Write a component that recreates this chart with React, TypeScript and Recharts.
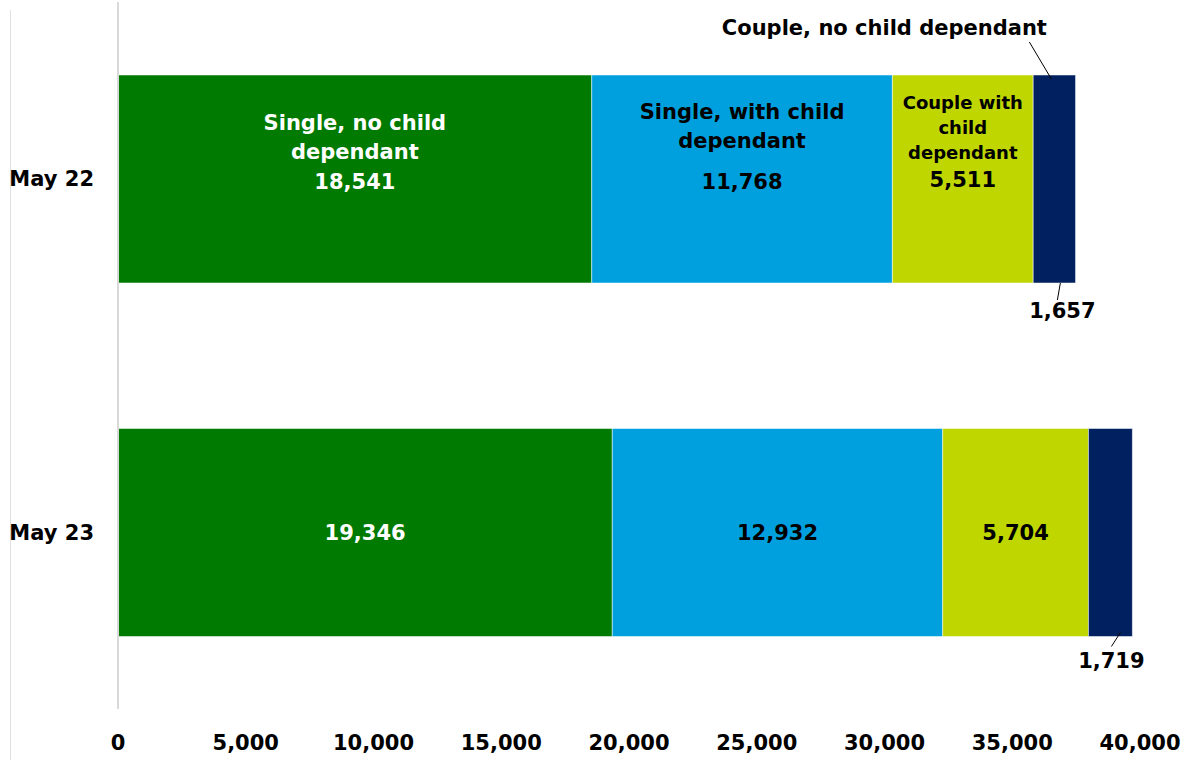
import React from 'react';
import { BarChart, Bar, XAxis, YAxis, LabelList } from 'recharts';

const periods = ['May 22', 'May 23'];
const singleNoChild = [18541, 19346];
const singleWithChild = [11768, 12932];
const coupleWithChild = [5511, 5704];
const coupleNoChild = [1657, 1719];
const xTicks = [0, 5000, 10000, 15000, 20000, 25000, 30000, 35000, 40000];

const data = periods.map((p, i) => ({
  period: p,
  singleNoChild: singleNoChild[i],
  singleWithChild: singleWithChild[i],
  coupleWithChild: coupleWithChild[i],
  coupleNoChild: coupleNoChild[i],
}));

const FONT = '"DejaVu Sans", sans-serif';
const SIZE = 21;
const fmt = (v: number) => v.toLocaleString('en-GB');

// labels drawn inside the bar; first row also carries the category name
const inside = (nameLines: string[], color: string, lineTops: number[], valueTop: number, nameSize = SIZE) =>
  (props: any) => {
    const { x, y, width, height, value, index } = props;
    const cx = x + width / 2;
    if (index === 0) {
      return (
        <g>
          {nameLines.map((t, i) => (
            <text key={i} x={cx} y={y + lineTops[i]} textAnchor="middle" dominantBaseline="central"
              fill={color} fontFamily={FONT} fontWeight="bold" fontSize={nameSize}>{t}</text>
          ))}
          <text x={cx} y={y + valueTop} textAnchor="middle" dominantBaseline="central"
            fill={color} fontFamily={FONT} fontWeight="bold" fontSize={SIZE}>{fmt(value)}</text>
        </g>
      );
    }
    return (
      <text x={cx} y={y + height / 2} textAnchor="middle" dominantBaseline="central"
        fill={color} fontFamily={FONT} fontWeight="bold" fontSize={SIZE}>{fmt(value)}</text>
    );
  };

// small navy segment: values sit below the bar with a leader line
const outside = (props: any) => {
  const { x, y, width, height, value, index } = props;
  const cx = x + width / 2;
  const bottom = y + height;
  if (index === 0) {
    return (
      <g>
        <text x={cx - 170} y={y - 47} textAnchor="middle" dominantBaseline="central"
          fill="#000" fontFamily={FONT} fontWeight="bold" fontSize={SIZE}>Couple, no child dependant</text>
        <line x1={cx - 25} y1={y - 33} x2={cx - 3} y2={y + 4} stroke="#000" strokeWidth={1} />
        <line x1={cx + 6} y1={bottom} x2={cx + 3} y2={bottom + 17} stroke="#000" strokeWidth={1} />
        <text x={cx + 8} y={bottom + 28} textAnchor="middle" dominantBaseline="central"
          fill="#000" fontFamily={FONT} fontWeight="bold" fontSize={SIZE}>{fmt(value)}</text>
      </g>
    );
  }
  return (
    <g>
      <line x1={cx + 10} y1={bottom - 4} x2={cx + 1} y2={bottom + 10} stroke="#000" strokeWidth={1} />
      <text x={cx + 1} y={bottom + 24} textAnchor="middle" dominantBaseline="central"
        fill="#000" fontFamily={FONT} fontWeight="bold" fontSize={SIZE}>{fmt(value)}</text>
    </g>
  );
};

export default function App() {
  return (
    <div style={{ position: 'absolute', left: 0, top: 0, width: 1192, height: 760, background: '#fff' }}>
      <div style={{ position: 'absolute', left: 10, top: 10, height: 750, borderLeft: '1px solid #e0e0e0' }} />
      <BarChart width={1192} height={760} data={data} layout="vertical"
        margin={{ top: 2, right: 52, bottom: 0, left: 0 }} barSize={208}>
        <XAxis type="number" domain={[0, 40000]} ticks={xTicks} tickFormatter={fmt}
          axisLine={false} tickLine={false} height={51} tickMargin={20}
          tick={{ fill: '#000', fontFamily: FONT, fontWeight: 'bold', fontSize: SIZE }} />
        <YAxis type="category" dataKey="period" width={118}
          axisLine={{ stroke: '#d9d9d9', strokeWidth: 2 }} tickLine={false} tickMargin={18}
          tick={{ fill: '#000', fontFamily: FONT, fontWeight: 'bold', fontSize: SIZE }} />
        <Bar dataKey="singleNoChild" stackId="a" fill="#007a00" stroke="#ffffff" strokeWidth={0.5} isAnimationActive={false}>
          <LabelList dataKey="singleNoChild" content={inside(['Single, no child', 'dependant'], '#fff', [48, 77], 107)} />
        </Bar>
        <Bar dataKey="singleWithChild" stackId="a" fill="#00a0df" stroke="#ffffff" strokeWidth={0.5} isAnimationActive={false}>
          <LabelList dataKey="singleWithChild" content={inside(['Single, with child', 'dependant'], '#000', [37, 66], 107)} />
        </Bar>
        <Bar dataKey="coupleWithChild" stackId="a" fill="#bfd600" stroke="#ffffff" strokeWidth={0.5} isAnimationActive={false}>
          <LabelList dataKey="coupleWithChild" content={inside(['Couple with', 'child', 'dependant'], '#000', [27, 52, 77], 105, 18)} />
        </Bar>
        <Bar dataKey="coupleNoChild" stackId="a" fill="#002060" stroke="#ffffff" strokeWidth={0.5} isAnimationActive={false}>
          <LabelList dataKey="coupleNoChild" content={outside} />
        </Bar>
      </BarChart>
    </div>
  );
}
